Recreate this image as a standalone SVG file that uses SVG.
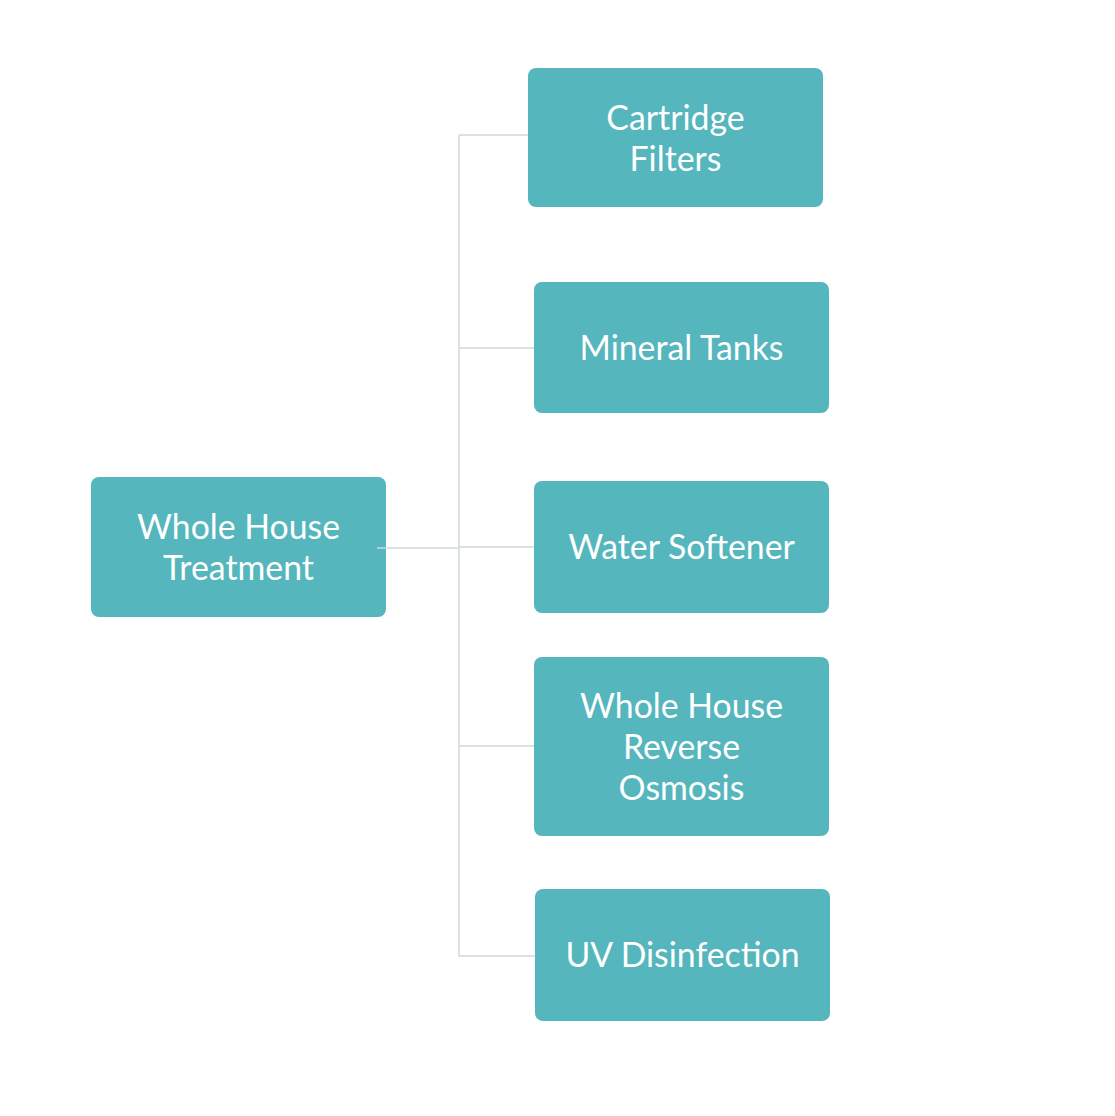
<svg xmlns="http://www.w3.org/2000/svg" width="1115" height="1116" viewBox="0 0 1115 1116">
<style>
.box{fill:#55B6BD}
.lbl{fill:#FFFFFF;font-family:Lato,"Liberation Sans",sans-serif;font-size:33.8px;text-anchor:middle}
.conn{fill:none;stroke:#CFD8DC;stroke-width:1.5}
</style>
<rect width="1115" height="1116" fill="#FFFFFF"/>
<g id="connectors">
<path class="conn" d="M459,135 V956"/>
<path class="conn" d="M459,135 H528"/>
<path class="conn" d="M459,348 H534"/>
<path class="conn" d="M459,547 H534"/>
<path class="conn" d="M459,746 H534"/>
<path class="conn" d="M459,956 H535"/>
</g>
<g id="root">
<rect class="box" x="91" y="477" width="295" height="140" rx="8"/>
<text class="lbl" x="238.5" y="539">Whole House</text>
<text class="lbl" x="238.5" y="580">Treatment</text>
</g>
<path class="conn" d="M377,548 H459"/>
<g id="cartridge">
<rect class="box" x="528" y="68" width="295" height="139" rx="8"/>
<text class="lbl" x="675.5" y="130">Cartridge</text>
<text class="lbl" x="675.5" y="171">Filters</text>
</g>
<g id="mineral">
<rect class="box" x="534" y="282" width="295" height="131" rx="8"/>
<text class="lbl" x="681.5" y="360">Mineral Tanks</text>
</g>
<g id="softener">
<rect class="box" x="534" y="481" width="295" height="132" rx="8"/>
<text class="lbl" x="681.5" y="559">Water Softener</text>
</g>
<g id="ro">
<rect class="box" x="534" y="657" width="295" height="179" rx="8"/>
<text class="lbl" x="681.5" y="718">Whole House</text>
<text class="lbl" x="681.5" y="759">Reverse</text>
<text class="lbl" x="681.5" y="800">Osmosis</text>
</g>
<g id="uv">
<rect class="box" x="535" y="889" width="295" height="132" rx="8"/>
<text class="lbl" x="682.5" y="967">UV Disinfection</text>
</g>
</svg>
